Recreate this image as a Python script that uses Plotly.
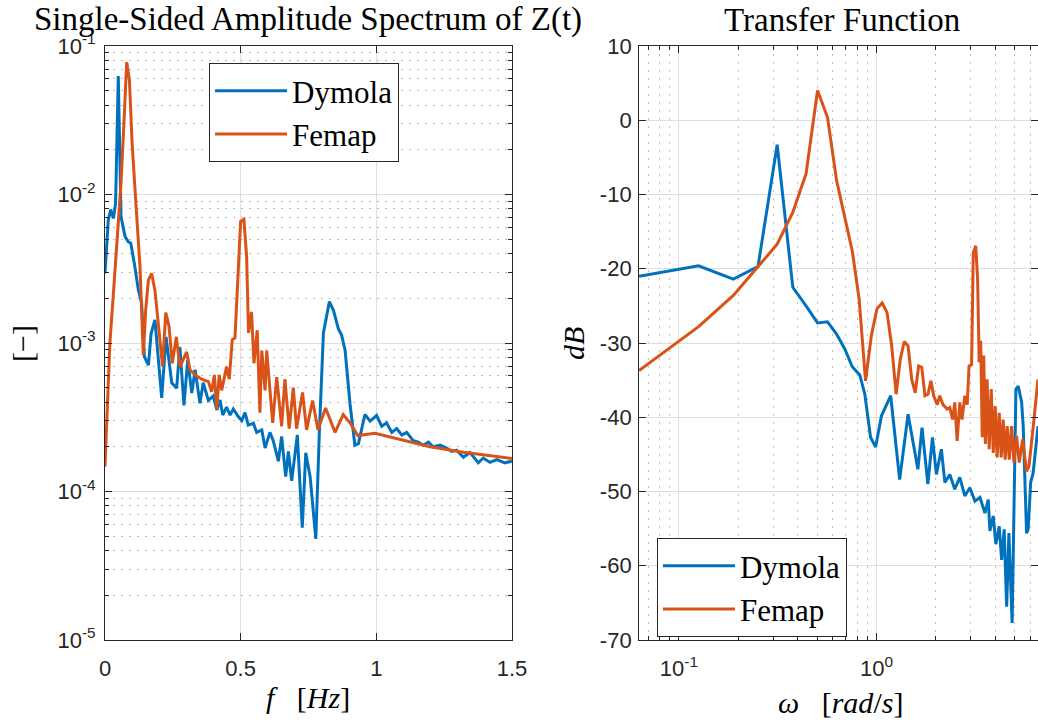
import plotly.graph_objects as go

# ---------------- Left panel: single-sided amplitude spectrum ----------------
dym_f = [0.000, 0.012, 0.021, 0.031, 0.039, 0.049, 0.059, 0.074, 0.086, 0.095,
         0.110, 0.123, 0.135, 0.145, 0.160, 0.170, 0.184, 0.209, 0.225, 0.246,
         0.264, 0.276, 0.291, 0.305, 0.320, 0.332, 0.350, 0.362, 0.381, 0.399,
         0.412, 0.424, 0.434, 0.448, 0.461, 0.473, 0.491, 0.504, 0.516, 0.528,
         0.547, 0.559, 0.578, 0.590, 0.608, 0.620, 0.639, 0.651, 0.666, 0.676,
         0.688, 0.709, 0.727, 0.740, 0.756, 0.777, 0.790, 0.805, 0.827, 0.842,
         0.860, 0.872, 0.885, 0.903, 0.921, 0.934, 0.958, 0.977, 1.001, 1.020,
         1.038, 1.057, 1.075, 1.094, 1.112, 1.136, 1.155, 1.173, 1.192, 1.210,
         1.235, 1.259, 1.278, 1.296, 1.321, 1.345, 1.376, 1.394, 1.419, 1.444,
         1.474, 1.500]
dym_amp = [2.94e-3, 6.7e-3, 7.9e-3, 6.9e-3, 8.7e-3, 6.28e-2, 7.1e-3, 5.2e-3, 4.8e-3, 4.7e-3,
           3.27e-3, 2.27e-3, 1.86e-3, 8.1e-4, 7.1e-4, 1.16e-3, 1.43e-3, 4.27e-4, 1.1e-3, 5.4e-4,
           4.96e-4, 9.4e-4, 3.8e-4, 7.7e-4, 4.6e-4, 6.6e-4, 3.93e-4, 5.4e-4, 4.1e-4, 4.4e-4,
           3.54e-4, 4.13e-4, 3.27e-4, 3.7e-4, 3.27e-4, 3.6e-4, 3.2e-4, 3.0e-4, 3.4e-4, 2.8e-4,
           2.88e-4, 2.5e-4, 2.6e-4, 1.96e-4, 2.5e-4, 2.2e-4, 1.6e-4, 2.35e-4, 1.26e-4, 1.86e-4,
           1.18e-4, 2.4e-4, 5.7e-5, 1.82e-4, 1.26e-4, 4.8e-5, 2.5e-4, 1.17e-3, 1.9e-3, 1.66e-3,
           1.25e-3, 1.13e-3, 8.9e-4, 3.9e-4, 2.05e-4, 2.1e-4, 3.3e-4, 2.98e-4, 3.25e-4, 2.75e-4,
           2.9e-4, 2.5e-4, 2.65e-4, 2.4e-4, 2.5e-4, 2.2e-4, 2.15e-4, 2.05e-4, 2.15e-4, 2.0e-4,
           2.05e-4, 1.96e-4, 1.86e-4, 1.9e-4, 1.7e-4, 1.83e-4, 1.56e-4, 1.68e-4, 1.57e-4, 1.64e-4,
           1.56e-4, 1.6e-4]

fem_f = [0.000, 0.009, 0.018, 0.031, 0.043, 0.059, 0.068, 0.080, 0.090, 0.100,
         0.113, 0.129, 0.141, 0.150, 0.160, 0.172, 0.184, 0.203, 0.212, 0.224,
         0.236, 0.248, 0.263, 0.276, 0.301, 0.313, 0.332, 0.356, 0.381, 0.393,
         0.403, 0.412, 0.421, 0.430, 0.448, 0.458, 0.469, 0.479, 0.491, 0.500,
         0.512, 0.522, 0.529, 0.540, 0.549, 0.561, 0.571, 0.578, 0.590, 0.596,
         0.618, 0.633, 0.651, 0.663, 0.679, 0.694, 0.706, 0.728, 0.743, 0.765,
         0.785, 0.813, 0.848, 0.878, 0.903, 0.932, 0.995, 1.075, 1.198, 1.321,
         1.500]
fem_amp = [1.47e-4, 4.1e-4, 1.0e-3, 2.16e-3, 4.45e-3, 1.19e-2, 2.58e-2, 7.8e-2, 5.9e-2, 2.2e-2,
           9.2e-3, 3.27e-3, 8.3e-4, 1.67e-3, 2.65e-3, 2.94e-3, 2.27e-3, 1.05e-3, 7.0e-4, 1.6e-3,
           1.29e-3, 7.3e-4, 1.1e-3, 6.9e-4, 8.7e-4, 6.6e-4, 6.1e-4, 5.7e-4, 5.5e-4, 4.7e-4,
           6.1e-4, 3.6e-4, 6.1e-4, 4.8e-4, 6.9e-4, 5.7e-4, 1.05e-3, 1.08e-3, 2.94e-3, 6.6e-3,
           6.8e-3, 3.8e-3, 1.17e-3, 1.62e-3, 7.3e-4, 1.22e-3, 3.4e-4, 8.9e-4, 4.8e-4, 8.9e-4,
           2.9e-4, 5.9e-4, 2.75e-4, 5.7e-4, 2.65e-4, 5.0e-4, 2.65e-4, 4.65e-4, 2.6e-4, 4.1e-4,
           2.6e-4, 3.65e-4, 2.5e-4, 3.3e-4, 2.9e-4, 2.38e-4, 2.47e-4, 2.27e-4, 2.0e-4, 1.84e-4,
           1.67e-4]

# ---------------- Right panel: transfer function ----------------
dym_w = [0.0628, 0.1257, 0.1885, 0.2513, 0.3142, 0.377, 0.440, 0.503, 0.565, 0.628,
         0.691, 0.754, 0.823, 0.873, 0.933, 0.990, 1.06, 1.18, 1.31, 1.445,
         1.62, 1.70, 1.82, 1.92, 2.01, 2.13, 2.22, 2.35, 2.49, 2.64,
         2.80, 2.97, 3.15, 3.34, 3.54, 3.68, 3.75, 3.90, 4.02, 4.18,
         4.30, 4.43, 4.56, 4.68, 4.86, 5.08, 5.22, 5.43, 5.53, 5.75,
         5.86, 6.03, 6.21, 6.57]
dym_db = [-21.0, -19.6, -21.4, -19.7, -3.3, -22.5, -25.0, -27.3, -27.15, -28.8,
          -30.8, -33.2, -34.3, -36.9, -42.7, -44.0, -39.8, -37.1, -48.4, -39.6,
          -47.0, -41.4, -49.0, -42.7, -47.7, -44.3, -48.8, -47.7, -49.7, -48.1,
          -50.6, -49.5, -51.3, -50.8, -52.9, -51.1, -55.3, -53.3, -57.1, -54.7,
          -59.2, -55.1, -65.5, -55.6, -67.7, -36.2, -35.8, -38.0, -41.2, -55.6,
          -55.1, -48.8, -47.5, -41.2]

fem_w = [0.0628, 0.1257, 0.1885, 0.2513, 0.3142, 0.377, 0.440, 0.503, 0.565, 0.628,
         0.691, 0.754, 0.817, 0.880, 0.942, 1.005, 1.068, 1.131, 1.194, 1.257,
         1.319, 1.382, 1.445, 1.508, 1.571, 1.634, 1.696, 1.759, 1.822, 1.885,
         1.948, 2.03, 2.09, 2.17, 2.28, 2.35, 2.43, 2.49, 2.56, 2.64,
         2.71, 2.80, 2.88, 2.94, 3.03, 3.09, 3.18, 3.25, 3.31, 3.37,
         3.43, 3.49, 3.56, 3.63, 3.72, 3.81, 3.90, 3.99, 4.08, 4.18,
         4.28, 4.38, 4.48, 4.59, 4.70, 4.83, 4.96, 5.12, 5.28, 5.49,
         5.75, 5.91, 6.17, 6.57]
fem_db = [-33.7, -27.8, -23.6, -19.7, -16.7, -12.4, -7.2, 4.0, 0.4, -8.1,
          -13.3, -17.6, -24.1, -35.1, -29.0, -25.4, -24.6, -25.9, -30.4, -36.9,
          -32.2, -29.8, -30.4, -34.9, -36.7, -33.1, -33.3, -37.1, -36.9, -35.1,
          -37.1, -38.3, -37.1, -38.3, -38.9, -38.7, -40.3, -38.0, -43.2, -38.0,
          -40.3, -37.1, -38.3, -33.1, -32.9, -17.8, -16.9, -21.4, -32.6, -29.7,
          -42.7, -31.7, -43.6, -34.9, -44.3, -36.2, -44.8, -38.5, -45.4, -39.4,
          -45.4, -40.3, -45.7, -41.2, -45.7, -41.2, -46.1, -42.5, -46.1, -43.0,
          -47.3, -46.6, -42.1, -34.9]

series_names = ["Dymola", "Femap"]
colors = ["#0072BD", "#D95319"]

# tick definitions
left_x_ticks = [0, 0.5, 1, 1.5]
left_x_text = ["0", "0.5", "1", "1.5"]
left_y_exp = [-5, -4, -3, -2, -1]
right_x_exp = [-1, 0]
right_y_ticks = [-70, -60, -50, -40, -30, -20, -10, 0, 10]

left_y_ticks = [10.0 ** e for e in left_y_exp]
left_y_text = ["10<sup>%d</sup>" % e for e in left_y_exp]
left_y_minor = [m * 10.0 ** e for e in left_y_exp[:-1] for m in range(2, 10)]
right_x_ticks = [10.0 ** e for e in right_x_exp]
right_x_text = ["10<sup>%d</sup>" % e for e in right_x_exp]
right_x_minor = [m * 10.0 ** e for e in [-2, -1, 0] for m in range(2, 10)]
right_y_text = [str(v) for v in right_y_ticks]

AX = "#262626"
GRID = "#dfdfdf"
MINOR = "#bdbdbd"
MINOR_DASH = "2px,6px"
TICKFONT = dict(family="Liberation Sans, Arial, sans-serif", size=22, color=AX)
SERIF = "Liberation Serif, Times New Roman, serif"

fig = go.Figure()
fig.add_trace(go.Scatter(x=dym_f, y=dym_amp, mode="lines", name=series_names[0],
                         line=dict(color=colors[0], width=3), xaxis="x", yaxis="y", legend="legend"))
fig.add_trace(go.Scatter(x=fem_f, y=fem_amp, mode="lines", name=series_names[1],
                         line=dict(color=colors[1], width=3), xaxis="x", yaxis="y", legend="legend"))
fig.add_trace(go.Scatter(x=dym_w, y=dym_db, mode="lines", name=series_names[0],
                         line=dict(color=colors[0], width=3), xaxis="x2", yaxis="y2", legend="legend2"))
fig.add_trace(go.Scatter(x=fem_w, y=fem_db, mode="lines", name=series_names[1],
                         line=dict(color=colors[1], width=3), xaxis="x2", yaxis="y2", legend="legend2"))

common = dict(showline=True, linecolor=AX, linewidth=1, mirror="allticks", ticks="inside",
              ticklen=7, tickcolor=AX, tickwidth=1, tickfont=TICKFONT, zeroline=False,
              showgrid=True, gridcolor=GRID, gridwidth=1, automargin=False)
minor_common = dict(tickmode="array", ticks="inside", ticklen=4, tickcolor=AX, showgrid=True,
                    gridcolor=MINOR, griddash=MINOR_DASH, gridwidth=1)

fig.update_layout(
    template="none",
    autosize=True,
    margin=dict(l=105, r=0, t=46, b=84, pad=0, autoexpand=False),
    paper_bgcolor="white", plot_bgcolor="white",
    showlegend=True,
    xaxis=dict(domain=[0, 0.4362], range=[0, 1.5], tickmode="array", tickvals=left_x_ticks,
               ticktext=left_x_text, ticklabelstandoff=9, anchor="y", **common),
    yaxis=dict(domain=[0, 1], type="log", range=[-5, -1], tickmode="array", tickvals=left_y_ticks,
               ticktext=left_y_text, ticklabelstandoff=4, anchor="x",
               minor=dict(tickvals=left_y_minor, **minor_common), **common),
    xaxis2=dict(domain=[0.5724, 1.0], type="log", range=[-1.202, 0.8176], tickmode="array",
                tickvals=right_x_ticks, ticktext=right_x_text, ticklabelstandoff=9, anchor="y2",
                minor=dict(tickvals=right_x_minor, **minor_common), **common),
    yaxis2=dict(domain=[0, 1], range=[-70, 10], tickmode="array", tickvals=right_y_ticks,
                ticktext=right_y_text, ticklabelstandoff=2, anchor="x2", **common),
    legend=dict(x=0.1115, y=0.9714, xanchor="left", yanchor="top", bgcolor="white",
                bordercolor=AX, borderwidth=1, itemwidth=72,
                font=dict(family=SERIF, size=31, color="black"), tracegroupgap=0),
    legend2=dict(x=0.5916, y=0.1717, xanchor="left", yanchor="top", bgcolor="white",
                 bordercolor=AX, borderwidth=1, itemwidth=72,
                 font=dict(family=SERIF, size=31, color="black"), tracegroupgap=0),
)

ann_font = dict(family=SERIF, size=33, color="black")
lbl_font = dict(family=SERIF, size=30, color="black")
annotations = [
    dict(text="Single-Sided Amplitude Spectrum of Z(t)", x=0.218, y=1.044, xref="paper", yref="paper",
         xanchor="center", yanchor="middle", showarrow=False, font=ann_font),
    dict(text="Transfer Function", x=0.790, y=1.044, xref="paper", yref="paper",
         xanchor="center", yanchor="middle", showarrow=False, font=ann_font),
    dict(text="[\u2212]", x=-0.089, y=0.5, xref="paper", yref="paper", textangle=-90,
         xanchor="center", yanchor="middle", showarrow=False, font=lbl_font),
    dict(text="<i>f</i>\u00a0\u00a0\u00a0[<i>Hz</i>]", x=0.218, y=-0.097, xref="paper", yref="paper",
         xanchor="center", yanchor="middle", showarrow=False, font=lbl_font),
    dict(text="<i>dB</i>", x=0.5016, y=0.5, xref="paper", yref="paper", textangle=-90,
         xanchor="center", yanchor="middle", showarrow=False, font=lbl_font),
    dict(text="<i>\u03c9</i>\u00a0\u00a0\u00a0[<i>rad</i>/<i>s</i>]", x=0.788, y=-0.105, xref="paper",
         yref="paper", xanchor="center", yanchor="middle", showarrow=False, font=lbl_font),
]
fig.update_layout(annotations=annotations)

fig.write_html("out.html")
